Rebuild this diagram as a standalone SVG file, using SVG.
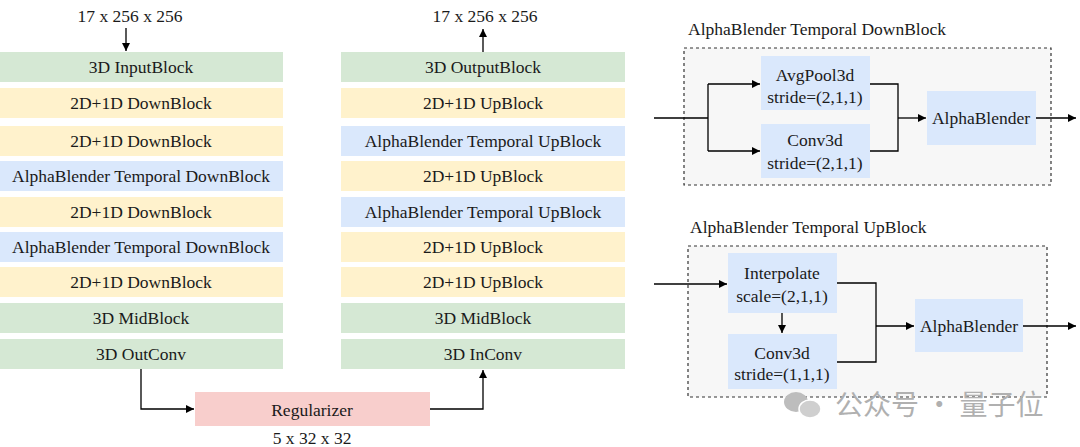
<svg xmlns="http://www.w3.org/2000/svg" width="1080" height="447" viewBox="0 0 1080 447">
<style>
text{font-family:"Liberation Serif","Times New Roman",serif;fill:#1a1a1a;font-size:17.5px;text-anchor:middle}
.g{fill:#d5e8d4}.y{fill:#fff2cc}.b{fill:#dae8fc}.r{fill:#f8cecc}
.ln{fill:none;stroke:#000;stroke-width:1.3}
.arr{fill:none;stroke:#000;stroke-width:1.3;marker-end:url(#ah)}
.dash{fill:#f7f7f7;stroke:#333;stroke-width:1.2;stroke-dasharray:3,3}
.wm{font-family:"Noto Sans CJK SC","Noto Sans",sans-serif;fill:#b0b0b0;font-size:28px;text-anchor:start}
</style>
<defs>
<marker id="ah" viewBox="0 0 10 10" refX="10" refY="5" markerWidth="8" markerHeight="8" markerUnits="userSpaceOnUse" orient="auto">
<path d="M0,0 L10,5 L0,10 z" fill="#000"/>
</marker>
</defs>
<rect width="1080" height="447" fill="#fff"/>

<g id="labels">
<text x="130" y="22">17 x 256 x 256</text>
<text x="485" y="22">17 x 256 x 256</text>
<text x="312" y="444">5 x 32 x 32</text>
<text x="688" y="35" style="text-anchor:start">AlphaBlender Temporal DownBlock</text>
<text x="690" y="233" style="text-anchor:start">AlphaBlender Temporal UpBlock</text>
</g>

<g id="encoder">
<g id="enc-input"><rect class="g" x="0" y="52" width="283" height="30"/><text x="141" y="73">3D InputBlock</text></g>
<g id="enc-down1"><rect class="y" x="0" y="88" width="283" height="30"/><text x="141" y="109">2D+1D DownBlock</text></g>
<g id="enc-down2"><rect class="y" x="0" y="126" width="283" height="30"/><text x="141" y="147">2D+1D DownBlock</text></g>
<g id="enc-ab1"><rect class="b" x="0" y="161" width="283" height="30"/><text x="141" y="182">AlphaBlender Temporal DownBlock</text></g>
<g id="enc-down3"><rect class="y" x="0" y="197" width="283" height="30"/><text x="141" y="218">2D+1D DownBlock</text></g>
<g id="enc-ab2"><rect class="b" x="0" y="232" width="283" height="30"/><text x="141" y="253">AlphaBlender Temporal DownBlock</text></g>
<g id="enc-down4"><rect class="y" x="0" y="267" width="283" height="30"/><text x="141" y="288">2D+1D DownBlock</text></g>
<g id="enc-mid"><rect class="g" x="0" y="303" width="283" height="30"/><text x="141" y="324">3D MidBlock</text></g>
<g id="enc-out"><rect class="g" x="0" y="339" width="283" height="30"/><text x="141" y="360">3D OutConv</text></g>
</g>

<g id="decoder">
<g id="dec-output"><rect class="g" x="341" y="52" width="284" height="30"/><text x="483" y="73">3D OutputBlock</text></g>
<g id="dec-up1"><rect class="y" x="341" y="88" width="284" height="30"/><text x="483" y="109">2D+1D UpBlock</text></g>
<g id="dec-ab1"><rect class="b" x="341" y="126" width="284" height="30"/><text x="483" y="147">AlphaBlender Temporal UpBlock</text></g>
<g id="dec-up2"><rect class="y" x="341" y="161" width="284" height="30"/><text x="483" y="182">2D+1D UpBlock</text></g>
<g id="dec-ab2"><rect class="b" x="341" y="197" width="284" height="30"/><text x="483" y="218">AlphaBlender Temporal UpBlock</text></g>
<g id="dec-up3"><rect class="y" x="341" y="232" width="284" height="30"/><text x="483" y="253">2D+1D UpBlock</text></g>
<g id="dec-up4"><rect class="y" x="341" y="267" width="284" height="30"/><text x="483" y="288">2D+1D UpBlock</text></g>
<g id="dec-mid"><rect class="g" x="341" y="303" width="284" height="30"/><text x="483" y="324">3D MidBlock</text></g>
<g id="dec-in"><rect class="g" x="341" y="339" width="284" height="30"/><text x="483" y="360">3D InConv</text></g>
</g>

<g id="regularizer"><rect class="r" x="195" y="392" width="235" height="34"/><text x="312" y="416">Regularizer</text></g>

<g id="down-detail">
<rect class="dash" x="684" y="48" width="367" height="137"/>
<g id="avgpool"><rect class="b" x="761" y="56" width="109" height="54"/><text x="815" y="81">AvgPool3d</text><text x="815" y="103">stride=(2,1,1)</text></g>
<g id="conv3d-d"><rect class="b" x="761" y="124" width="109" height="54"/><text x="815" y="146">Conv3d</text><text x="815" y="169">stride=(2,1,1)</text></g>
<g id="ab-d"><rect class="b" x="927" y="91" width="109" height="54"/><text x="981" y="124">AlphaBlender</text></g>
</g>

<g id="up-detail">
<rect class="dash" x="688" y="246" width="359" height="151"/>
<g id="interp"><rect class="b" x="728" y="253" width="109" height="60"/><text x="782" y="279">Interpolate</text><text x="782" y="302">scale=(2,1,1)</text></g>
<g id="conv3d-u"><rect class="b" x="728" y="334" width="109" height="55"/><text x="782" y="359">Conv3d</text><text x="782" y="380">stride=(1,1,1)</text></g>
<g id="ab-u"><rect class="b" x="915" y="299" width="108" height="53"/><text x="969" y="332">AlphaBlender</text></g>
</g>

<g id="connectors">
<path class="arr" d="M126,28 V51"/>
<path class="arr" d="M483,52 V29"/>
<path class="arr" d="M141,369 V409 H194"/>
<path class="arr" d="M430,409 H483 V370"/>
<path class="ln" d="M654,118 H708 M708,84 V151"/>
<path class="arr" d="M708,84 H760"/>
<path class="arr" d="M708,151 H760"/>
<path class="ln" d="M870,84 H898 V151 H870"/>
<path class="arr" d="M898,118 H926"/>
<path class="arr" d="M1036,118 H1076"/>
<path class="arr" d="M654,284 H727"/>
<path class="arr" d="M782,313 V333"/>
<path class="ln" d="M837,283 H876 V362 H837"/>
<path class="arr" d="M876,326 H914"/>
<path class="arr" d="M1023,326 H1076"/>
</g>

<g id="watermark">
<ellipse cx="796" cy="402" rx="12" ry="10" fill="#bdbdbd"/>
<ellipse cx="810" cy="409" rx="11" ry="9" fill="#cfcfcf" stroke="#fff" stroke-width="1.5"/>
<text class="wm" x="835" y="415">公众号 · 量子位</text>
</g>
</svg>
